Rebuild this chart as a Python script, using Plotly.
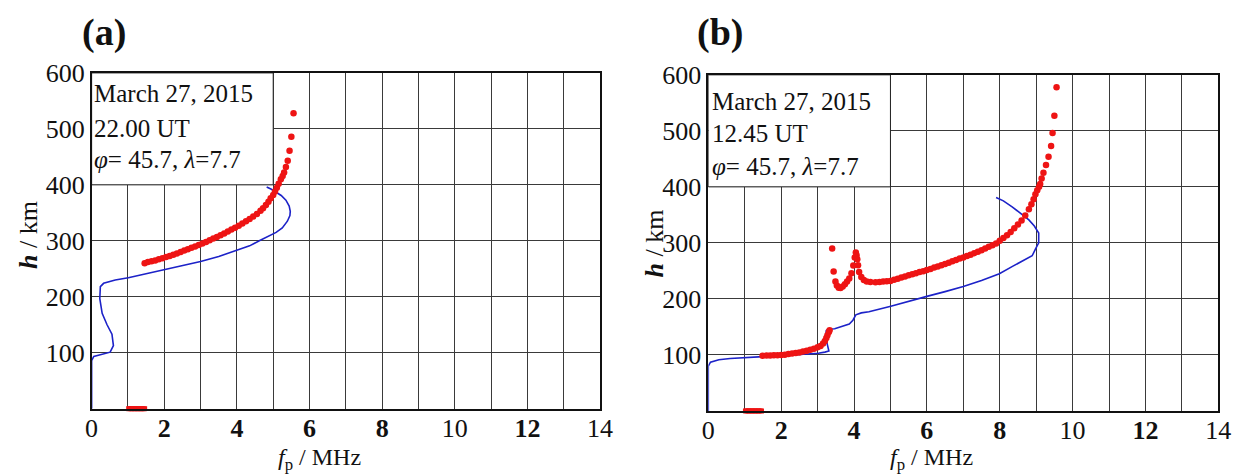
import plotly.graph_objects as go

# ---- Panel (a): March 27, 2015, 22.00 UT ----
fp_a_model = [0.0, 0.0, 0.06, 0.29, 0.51, 0.60, 0.59, 0.56, 0.425, 0.29, 0.225, 0.23, 0.24,
              0.33, 0.65, 1.01, 1.5, 2.0, 2.5, 3.0, 3.5, 4.0, 4.35, 4.63, 4.88, 5.08, 5.25,
              5.39, 5.46, 5.47, 5.44, 5.35, 5.22, 5.08, 4.95, 4.82]
h_a_model = [0, 86, 93.5, 98, 101, 112.7, 122, 133, 150, 170.5, 196.5, 208, 218,
             224, 230, 234, 241, 248.5, 255.5, 263, 272, 283, 291, 300.5, 308, 315, 323,
             335, 345, 352.5, 362, 372.6, 381, 387, 392, 396]

fp_a_obs = [1.46, 1.55, 1.65, 1.75, 1.85, 1.95, 2.05, 2.15, 2.25, 2.35, 2.45, 2.55, 2.65,
            2.75, 2.85, 2.95, 3.05, 3.15, 3.25, 3.35, 3.45, 3.55, 3.65, 3.75, 3.85, 3.95,
            4.05, 4.15, 4.25, 4.35, 4.45, 4.55, 4.65, 4.72, 4.80, 4.87, 4.93, 5.00, 5.05,
            5.10, 5.15, 5.21, 5.26, 5.30, 5.35, 5.40, 5.45, 5.50, 5.56]
h_a_obs = [260, 262, 263.5, 265, 267, 269, 271, 273, 275, 277.5, 280, 282.5, 285,
           287.5, 290, 292.5, 295, 298, 301, 304, 307, 310, 313, 316.5, 320, 323.5,
           327, 331, 335, 339, 343.5, 348, 353.5, 358, 364, 370, 376, 382, 388,
           395, 402, 410, 416, 422, 432, 443, 461, 486, 528]

fp_a_zero = [1.02, 1.06, 1.10, 1.14, 1.18, 1.22, 1.26, 1.30, 1.34, 1.38, 1.42, 1.46]
h_a_zero = [0] * len(fp_a_zero)

# ---- Panel (b): March 27, 2015, 12.45 UT ----
fp_b_model = [0.0, 0.0, 0.06, 0.29, 0.6, 1.02, 1.5, 2.02, 2.5, 3.02, 3.2, 3.31, 3.27, 3.22,
              3.24, 3.3, 3.47, 3.7, 3.87, 3.97, 4.05, 4.2, 4.41, 5.01, 5.5, 6.0, 6.5, 7.0,
              7.5, 7.99, 8.35, 8.62, 8.89, 8.98, 9.07, 9.07, 8.95, 8.8, 8.6, 8.35, 8.1, 7.9]
h_b_model = [0, 80, 87, 91.5, 93.5, 95.6, 97, 98.5, 100.5, 103, 105, 107, 118, 132,
             143.7, 146, 146.6, 151, 155, 162, 171.5, 175, 177, 187, 195, 204.5, 213, 222,
             233, 245, 258, 268, 277, 288.7, 300, 317.6, 330, 341, 352, 364, 375, 381]

fp_b_obs = [1.49, 1.6, 1.7, 1.8, 1.9, 2.0, 2.1, 2.2, 2.3, 2.4, 2.5, 2.6, 2.7, 2.8, 2.9,
            3.0, 3.08, 3.15, 3.2, 3.24, 3.27, 3.31, 3.33,
            3.40, 3.44, 3.49, 3.53, 3.58, 3.63, 3.69, 3.75, 3.81, 3.87, 3.93, 3.98, 4.02,
            4.05, 4.07, 4.09, 4.11, 4.14, 4.2, 4.27, 4.35, 4.45, 4.59, 4.7, 4.8, 4.9,
            5.0, 5.1, 5.2, 5.3, 5.4, 5.5, 5.6, 5.7, 5.8, 5.9, 6.0, 6.1, 6.2, 6.3, 6.4,
            6.5, 6.6, 6.7, 6.8, 6.9, 7.0, 7.1, 7.2, 7.3, 7.4, 7.5, 7.6, 7.7, 7.8, 7.9,
            8.0, 8.1, 8.2, 8.3, 8.4, 8.5, 8.6, 8.7, 8.8, 8.87, 8.93, 8.98, 9.03, 9.08,
            9.11, 9.15, 9.2, 9.27, 9.34, 9.41, 9.45, 9.50, 9.56]
h_b_obs = [98.5, 99, 99, 99.5, 99.5, 100, 100.5, 101.5, 102.5, 103.5, 104.5, 106, 107.5,
           109, 111, 113.5, 116, 120.5, 125, 130, 135, 141, 144,
           290, 249, 231, 224, 220, 219.5, 222, 226, 231, 236.5, 246, 259.7, 274,
           283, 278, 271, 260, 248, 239, 233.6, 231, 230, 229.6, 230, 231, 231.5,
           232, 234, 236, 238, 240, 242, 244, 246, 248, 249.5, 251.5, 253.5, 256, 258, 260,
           262.5, 264.5, 267, 269.5, 272, 274, 276.5, 279, 281.5, 284, 287, 290, 293, 296,
           299, 304, 308.5, 313.5, 319.5, 326, 333, 340, 349, 360, 369, 378, 387, 394, 400,
           405, 415, 425, 439, 454, 473, 496, 527, 578]

fp_b_zero = [1.02, 1.06, 1.10, 1.14, 1.18, 1.22, 1.26, 1.30, 1.34, 1.38, 1.42, 1.46]
h_b_zero = [0] * len(fp_b_zero)

x_ticks = [0, 2, 4, 6, 8, 10, 12, 14]
x_ticktext = ["0", "<b>2</b>", "<b>4</b>", "<b>6</b>", "<b>8</b>", "10", "<b>12</b>", "14"]
y_ticks = [100, 200, 300, 400, 500, 600]
y_ticktext = ["100", "200", "300", "400", "500", "600"]

info_a = ["March 27, 2015", "22.00 UT", "<i>φ</i>= 45.7, <i>λ</i>=7.7"]
info_b = ["March 27, 2015", "12.45 UT", "<i>φ</i>= 45.7, <i>λ</i>=7.7"]

W, H = 1250, 474
FONT = "Liberation Serif"
RED = "#ee1414"
BLUE = "#1c22c8"
GRID = "#3a3a3a"


def px(x):
    return x / W


def py(y):
    return 1 - y / H


fig = go.Figure()

panels = [
    ("x", "y", fp_a_model, h_a_model, fp_a_obs, h_a_obs, fp_a_zero, h_a_zero),
    ("x2", "y2", fp_b_model, h_b_model, fp_b_obs, h_b_obs, fp_b_zero, h_b_zero),
]
for xr, yr, fm, hm, fo, ho, fz, hz in panels:
    fig.add_trace(go.Scatter(x=fm, y=hm, xaxis=xr, yaxis=yr, mode="lines",
                             line=dict(color=BLUE, width=1.6), showlegend=False,
                             hoverinfo="skip"))
    fig.add_trace(go.Scatter(x=fo, y=ho, xaxis=xr, yaxis=yr, mode="markers",
                             marker=dict(color=RED, size=6.5, line=dict(width=0)),
                             showlegend=False))
    fig.add_trace(go.Scatter(x=fz, y=hz, xaxis=xr, yaxis=yr, mode="markers",
                             marker=dict(color=RED, size=5, symbol="square",
                                         line=dict(width=0)),
                             cliponaxis=False, showlegend=False))

axis_common = dict(
    showline=True, mirror=True, linecolor="#111", linewidth=1.5,
    showgrid=True, gridcolor=GRID, gridwidth=1,
    zeroline=False, ticks="",
    tickfont=dict(family=FONT, size=26, color="#111"),
)
x_minor = dict(dtick=1, tick0=0, showgrid=True, gridcolor=GRID, gridwidth=1, ticks="")

fig.update_layout(
    width=W, height=H,
    margin=dict(l=0, r=0, t=0, b=0),
    paper_bgcolor="white", plot_bgcolor="white",
    xaxis=dict(domain=[px(86), px(602.7)], range=[0, 14], tickvals=x_ticks,
               ticktext=x_ticktext, anchor="y", minor=x_minor, ticklabelstandoff=-5,
               **axis_common),
    yaxis=dict(domain=[py(406.7), py(60.7)], range=[0, 600], tickvals=y_ticks,
               ticktext=y_ticktext, anchor="x", **axis_common),
    xaxis2=dict(domain=[px(712.7), px(1231)], range=[0, 14], tickvals=x_ticks,
                ticktext=x_ticktext, anchor="y2", minor=x_minor, ticklabelstandoff=-5,
                **axis_common),
    yaxis2=dict(domain=[py(409), py(62.7)], range=[0, 600], tickvals=y_ticks,
                ticktext=y_ticktext, anchor="x2", **axis_common),
)

# White info boxes in the upper-left corner of each panel
for xr, yr in [("x", "y"), ("x2", "y2")]:
    fig.add_shape(type="rect", xref=xr, yref=yr, x0=0, x1=5, y0=400, y1=600,
                  fillcolor="white", line=dict(color="#222", width=1), layer="between")

annotations = []
for lines, x0, ys in [(info_a, 86, [82, 118, 150]), (info_b, 714, [90, 123, 157])]:
    for text, yy in zip(lines, ys):
        annotations.append(dict(x=px(x0), y=py(yy), xref="paper", yref="paper",
                                text=text, showarrow=False, xanchor="left",
                                yanchor="middle",
                                font=dict(family=FONT, size=25, color="#111")))

for label, xx in [("(a)", 99), ("(b)", 725)]:
    annotations.append(dict(x=px(xx), y=py(19), xref="paper", yref="paper",
                            text=f"<b>{label}</b>", showarrow=False,
                            xanchor="center", yanchor="middle",
                            font=dict(family=FONT, size=38, color="#111")))

for xx in [318, 940]:
    annotations.append(dict(x=px(xx), y=py(459), xref="paper", yref="paper",
                            text="<i>f</i><sub>p</sub> / MHz", showarrow=False,
                            xanchor="center", yanchor="middle", borderpad=0,
                            font=dict(family=FONT, size=24, color="#111")))

for xx, yy in [(22, 228), (658, 236)]:
    annotations.append(dict(x=px(xx), y=py(yy), xref="paper", yref="paper",
                            text="<b><i>h</i></b> / km", showarrow=False, textangle=-90,
                            xanchor="center", yanchor="middle",
                            font=dict(family=FONT, size=26, color="#111")))

fig.update_layout(annotations=annotations)

fig.write_html("out.html")
